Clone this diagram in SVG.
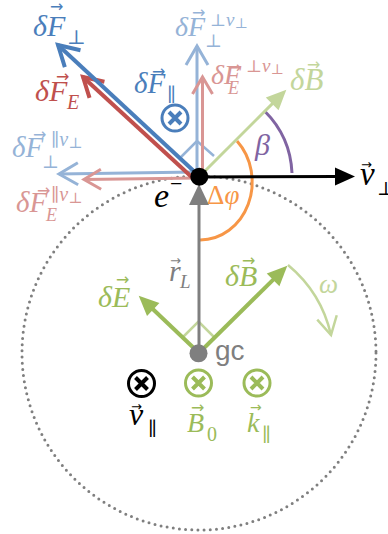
<svg xmlns="http://www.w3.org/2000/svg" width="388" height="534" viewBox="0 0 388 534">
<style>
.lbl{font-family:"Liberation Serif","DejaVu Serif",serif;font-style:italic}
.up{font-style:normal}
.sans{font-family:"Liberation Sans","DejaVu Sans",sans-serif;font-style:normal}
.arr{font-family:"DejaVu Sans","Liberation Sans",sans-serif;font-style:normal;font-size:16px}
.ln{fill:none;stroke-linecap:butt}
</style>
<defs>
<marker id="triK" markerUnits="userSpaceOnUse" orient="auto" overflow="visible" refX="1" refY="0"><path d="M0,-9 L20,0 L0,9 z" fill="#000"/></marker>
<marker id="triG" markerUnits="userSpaceOnUse" orient="auto" overflow="visible" refX="1" refY="0"><path d="M0,-9 L20,0 L0,9 z" fill="#9bbb59"/></marker>
<marker id="triLG" markerUnits="userSpaceOnUse" orient="auto" overflow="visible" refX="1" refY="0"><path d="M0,-9 L20,0 L0,9 z" fill="#c3d69b"/></marker>
<marker id="triGr" markerUnits="userSpaceOnUse" orient="auto" overflow="visible" refX="1" refY="0"><path d="M0,-10 L21,0 L0,10 z" fill="#7f7f7f"/></marker>
<marker id="chB" markerUnits="userSpaceOnUse" orient="auto" overflow="visible"><path d="M-20,-11.5 L0,0 L-20,11.5" fill="none" stroke="#4a7ebb" stroke-width="4"/></marker>
<marker id="chR" markerUnits="userSpaceOnUse" orient="auto" overflow="visible"><path d="M-19,-11 L0,0 L-19,11" fill="none" stroke="#c0504d" stroke-width="4"/></marker>
<marker id="chLB" markerUnits="userSpaceOnUse" orient="auto" overflow="visible"><path d="M-19,-11 L0,0 L-19,11" fill="none" stroke="#95b3d7" stroke-width="3"/></marker>
<marker id="chLR" markerUnits="userSpaceOnUse" orient="auto" overflow="visible"><path d="M-17,-10 L0,0 L-17,10" fill="none" stroke="#d99694" stroke-width="3"/></marker>
<marker id="chLG" markerUnits="userSpaceOnUse" orient="auto" overflow="visible"><path d="M-18,-10 L0,0 L-18,10" fill="none" stroke="#c3d69b" stroke-width="2.5"/></marker>
<g id="otimes"><circle r="13" fill="none" stroke-width="3"/><path d="M-6,-6 L6,6 M6,-6 L-6,6" fill="none" stroke-width="4"/></g>
</defs>
<rect width="388" height="534" fill="#fff"/>
<g id="orbit"><circle cx="199" cy="353" r="177" fill="none" stroke="#7f7f7f" stroke-width="3" stroke-dasharray="0 6.2" stroke-linecap="round"/></g>
<g id="angles">
<path class="ln" d="M181,157 L197,141 L214,156" stroke="#95b3d7" stroke-width="2.5"/>
<path class="ln" d="M183,337 L198.5,321.5 L214,337" stroke="#c3d69b" stroke-width="2.5"/>
<path class="ln" d="M264.8,111.2 A93,93 0 0 1 292,173" stroke="#8064a2" stroke-width="3"/>
<path class="ln" d="M237,141 A52,58 0 0 1 200,240" stroke="#f79646" stroke-width="3"/>
<path class="ln" d="M288,265 A128,128 0 0 1 331,335" stroke="#c3d69b" stroke-width="2.5" marker-end="url(#chLG)"/>
</g>
<g id="connectors">
<line class="ln" x1="199" y1="353" x2="199" y2="204" stroke="#7f7f7f" stroke-width="3" marker-end="url(#triGr)"/>
<line class="ln" x1="197" y1="172" x2="197" y2="46" stroke="#95b3d7" stroke-width="3" marker-end="url(#chLB)"/>
<line class="ln" x1="202.5" y1="177" x2="202.5" y2="77" stroke="#d99694" stroke-width="3" marker-end="url(#chLR)"/>
<line class="ln" x1="196" y1="172" x2="59" y2="174" stroke="#95b3d7" stroke-width="3" marker-end="url(#chLB)"/>
<line class="ln" x1="199" y1="178" x2="84" y2="179.5" stroke="#d99694" stroke-width="3" marker-end="url(#chLR)"/>
<line class="ln" x1="196" y1="181" x2="83" y2="77" stroke="#c0504d" stroke-width="4" marker-end="url(#chR)"/>
<line class="ln" x1="198" y1="175" x2="58" y2="45" stroke="#4a7ebb" stroke-width="4" marker-end="url(#chB)"/>
<line class="ln" x1="199" y1="177" x2="272.9" y2="103.1" stroke="#c3d69b" stroke-width="3" marker-end="url(#triLG)"/>
<line class="ln" x1="199" y1="177" x2="336" y2="176.6" stroke="#000" stroke-width="3" marker-end="url(#triK)"/>
<line class="ln" x1="199" y1="353" x2="152.5" y2="308.8" stroke="#9bbb59" stroke-width="4" marker-end="url(#triG)"/>
<line class="ln" x1="199" y1="353" x2="273.8" y2="279.1" stroke="#9bbb59" stroke-width="4" marker-end="url(#triG)"/>
</g>
<g id="electron">
<circle cx="199.3" cy="176.7" r="9" fill="#000"/>
<text class="lbl" x="154" y="207" font-size="34" fill="#000">e</text>
<text class="lbl up" x="170" y="191" font-size="22" fill="#000">−</text>
</g>
<g id="guiding-center">
<circle cx="198.5" cy="353.3" r="9" fill="#7f7f7f"/>
<text class="sans" x="215" y="360" font-size="28" fill="#7f7f7f">gc</text>
</g>
<g id="label-dF-perp" fill="#4a7ebb"><text class="lbl" x="33" y="36" font-size="30">δF<tspan class="up" x="67" y="44" font-size="20">⊥</tspan></text><text class="arr" x="50" y="12">→</text></g>
<g id="label-dF-E" fill="#c0504d"><text class="lbl" x="35" y="101" font-size="30">δF<tspan x="67" y="109" font-size="20">E</tspan></text><text class="arr" x="56" y="82">→</text></g>
<g id="label-dF-par" fill="#4a7ebb"><text class="lbl" x="134" y="93" font-size="29">δF<tspan class="up" x="167" y="101" font-size="19">∥</tspan></text><text class="arr" x="152" y="77">→</text>
<use href="#otimes" x="175" y="118" stroke="#4a7ebb"/></g>
<g id="label-dF-perp-perp" fill="#95b3d7"><text class="lbl" x="175" y="36" font-size="28">δF<tspan class="up" x="205" y="47" font-size="18">⊥</tspan><tspan class="up" x="210" y="26" font-size="17">⊥</tspan><tspan font-size="19">v</tspan><tspan class="up" font-size="14" dy="2">⊥</tspan></text><text class="arr" x="192" y="18">→</text></g>
<g id="label-dFE-perp" fill="#d99694"><text class="lbl" x="211" y="84" font-size="28">δF<tspan x="228" y="94" font-size="18">E</tspan><tspan class="up" x="246" y="72" font-size="17">⊥</tspan><tspan font-size="19">v</tspan><tspan class="up" font-size="14" dy="2">⊥</tspan></text><text class="arr" x="228" y="73">→</text></g>
<g id="label-dF-perp-par" fill="#95b3d7"><text class="lbl" x="12" y="157" font-size="29">δF<tspan class="up" x="42" y="168" font-size="18">⊥</tspan><tspan class="up" x="51" y="146" font-size="18">∥</tspan><tspan font-size="20">v</tspan><tspan class="up" font-size="15" dy="2">⊥</tspan></text><text class="arr" x="33" y="140">→</text></g>
<g id="label-dFE-par" fill="#d99694"><text class="lbl" x="16" y="212" font-size="29">δF<tspan x="46" y="221" font-size="18">E</tspan><tspan class="up" x="51" y="201" font-size="18">∥</tspan><tspan font-size="20">v</tspan><tspan class="up" font-size="15" dy="2">⊥</tspan></text><text class="arr" x="37" y="196">→</text></g>
<g id="label-dB-top" fill="#c3d69b"><text class="lbl" x="290" y="90" font-size="31">δB</text><text class="arr" x="307" y="70">→</text></g>
<g id="label-beta"><text class="lbl" x="255" y="155" font-size="30" fill="#8064a2">β</text></g>
<g id="label-v-perp" fill="#000"><text class="lbl" x="360" y="185" font-size="33">v<tspan class="up" x="377" y="195" font-size="19">⊥</tspan></text><text class="arr" x="361" y="169" font-size="14" style="font-size:13px">→</text></g>
<g id="label-dphi"><text class="lbl" x="207" y="204" font-size="27" fill="#f79646"><tspan class="up">Δ</tspan>φ</text></g>
<g id="label-rL" fill="#7f7f7f"><text class="lbl" x="169" y="281" font-size="30">r<tspan x="180" y="288" font-size="19">L</tspan></text><text class="arr" x="170" y="265" style="font-size:13px">→</text></g>
<g id="label-dE" fill="#9bbb59"><text class="lbl" x="98" y="307" font-size="30">δE</text><text class="arr" x="116" y="285">→</text></g>
<g id="label-dB" fill="#9bbb59"><text class="lbl" x="225" y="286" font-size="30">δB</text><text class="arr" x="242" y="266">→</text></g>
<g id="label-omega"><text class="lbl" x="319" y="293" font-size="27" fill="#c3d69b">ω</text></g>
<g id="v-par"><use href="#otimes" x="141.5" y="383.5" stroke="#000"/><text class="lbl" x="129" y="425" font-size="32" fill="#000">v<tspan class="up" x="148" y="435" font-size="19">∥</tspan></text><text class="arr" x="131" y="411" style="font-size:13px">→</text></g>
<g id="B0" fill="#9bbb59"><use href="#otimes" x="198.5" y="383" stroke="#9bbb59"/><text class="lbl" x="187" y="432" font-size="28">B<tspan class="up" x="207" y="441" font-size="20">0</tspan></text><text class="arr" x="191" y="413">→</text></g>
<g id="k-par" fill="#9bbb59"><use href="#otimes" x="257" y="383" stroke="#9bbb59"/><text class="lbl" x="247" y="432" font-size="28">k<tspan class="up" x="262" y="441" font-size="19">∥</tspan></text><text class="arr" x="250" y="412" style="font-size:14px">→</text></g>
</svg>
